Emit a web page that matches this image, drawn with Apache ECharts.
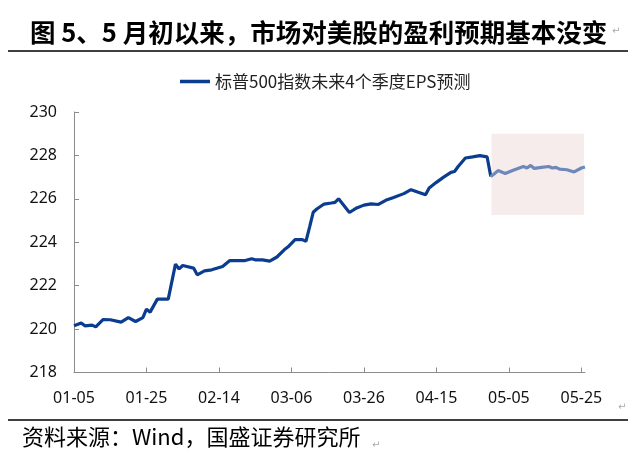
<!DOCTYPE html>
<html><head><meta charset="utf-8">
<script src="https://cdn.jsdelivr.net/npm/echarts@6/dist/echarts.min.js"></script>
<style>html,body{margin:0;padding:0;background:#fff}#c{width:636px;height:468px}</style>
</head><body><div id="c"></div>
<script>
const YEAR = 2021;
const titleText = '图 5、5 月初以来，市场对美股的盈利预期基本没变';
const sourceText = '资料来源：Wind，国盛证券研究所';
const seriesName = '标普500指数未来4个季度EPS预测';

const actualDates = ['01-05','01-07','01-08','01-10','01-11','01-13','01-15','01-18','01-20','01-22','01-24','01-25','01-26','01-28','01-31',
  '02-02','02-03','02-04','02-07','02-08','02-10','02-12','02-15','02-17','02-21','02-23','02-24','02-26','02-28',
  '03-02','03-04','03-05','03-07','03-09','03-10','03-11','03-12','03-13','03-15','03-17','03-18','03-19','03-22','03-24','03-26','03-28','03-30',
  '04-01','04-03','04-06','04-08','04-10','04-12','04-13','04-15','04-17','04-19','04-20','04-21','04-23','04-25','04-27','04-29','04-30'];
const actualValues = [220.15,220.28,220.15,220.18,220.10,220.44,220.43,220.32,220.53,220.35,220.53,220.92,220.78,221.38,221.38,
  222.99,222.77,222.93,222.81,222.50,222.68,222.73,222.88,223.16,223.15,223.24,223.19,223.19,223.13,
  223.32,223.65,223.78,224.12,224.12,224.04,224.70,225.38,225.53,225.76,225.81,225.84,226.00,225.37,225.58,225.71,225.77,225.74,
  225.93,226.05,226.24,226.42,226.30,226.19,226.50,226.76,227.00,227.22,227.26,227.49,227.88,227.93,227.99,227.93,227.03];

const recentDates = ['04-30','05-01','05-02','05-04','05-06','05-09','05-10','05-11','05-12','05-14','05-16','05-17','05-18','05-19','05-21','05-23','05-25','05-26'];
const recentValues = [227.03,227.16,227.30,227.17,227.30,227.49,227.42,227.54,227.40,227.45,227.49,227.42,227.45,227.37,227.34,227.24,227.42,227.47];

const xTickLabels = ['01-05','01-25','02-14','03-06','03-26','04-15','05-05','05-25'];
const xAxisEnd = '05-26';
const yMin = 218, yMax = 230, yStep = 2;
const highlightX = [115.2, 140.7];   // day offsets of shaded window
const highlightY = [225.25, 229];

function dayOffset(md) {
  const [m, d] = md.split('-').map(Number);
  const [m0, d0] = xTickLabels[0].split('-').map(Number);
  return Math.round((Date.UTC(YEAR, m - 1, d) - Date.UTC(YEAR, m0 - 1, d0)) / 86400000);
}
const tickOffsets = xTickLabels.map(dayOffset);
const tickStep = tickOffsets[1] - tickOffsets[0];
const labelByOffset = {};
xTickLabels.forEach((l, i) => labelByOffset[tickOffsets[i]] = l);

const actualData = actualDates.map((d, i) => [dayOffset(d), actualValues[i]]);
const recentData = recentDates.map((d, i) => [dayOffset(d), recentValues[i]]);

const DARK = '#0a3d8f', LIGHT = '#6f88ba', AXIS = '#8c8c8c';
const chart = echarts.init(document.getElementById('c'), null, {renderer: 'canvas'});
chart.setOption({
  animation: false,
  backgroundColor: '#fff',
  title: {
    text: titleText, left: 25, top: 15,
    textStyle: {fontFamily: 'Noto Sans CJK SC', fontSize: 25.5, fontWeight: 'bold', color: '#000'}
  },
  legend: {
    data: [{name: seriesName, icon: 'rect'}],
    left: 175, top: 68, itemWidth: 30, itemHeight: 3.5,
    textStyle: {fontFamily: 'Noto Sans CJK SC', fontSize: 17, color: '#222'}
  },
  grid: {left: 74, top: 112, right: 51, bottom: 95.5, containLabel: false},
  xAxis: {
    type: 'value', min: 0, max: dayOffset(xAxisEnd), interval: tickStep,
    axisLine: {lineStyle: {color: AXIS, width: 1}},
    axisTick: {inside: true, length: 5, lineStyle: {color: AXIS}, customValues: tickOffsets},
    axisLabel: {
      customValues: tickOffsets, margin: 18,
      formatter: v => labelByOffset[v] || '',
      fontFamily: 'Noto Sans', fontSize: 16, color: '#111'
    },
    splitLine: {show: false}
  },
  yAxis: {
    type: 'value', min: yMin, max: yMax, interval: yStep,
    axisLine: {show: true, lineStyle: {color: AXIS, width: 1}},
    axisTick: {show: true, inside: true, length: 5, lineStyle: {color: AXIS}},
    axisLabel: {margin: 17, fontFamily: 'Noto Sans', fontSize: 16, color: '#111'},
    splitLine: {show: false}
  },
  series: [
    {
      name: 'highlight', type: 'line', data: [], z: 1, silent: true,
      markArea: {
        silent: true, itemStyle: {color: '#f6ecec'},
        data: [[{xAxis: highlightX[0], yAxis: highlightY[1]}, {xAxis: highlightX[1], yAxis: highlightY[0]}]]
      }
    },
    {
      name: seriesName, type: 'line', data: actualData, z: 3,
      showSymbol: false, symbol: 'none', lineStyle: {color: DARK, width: 3.2}, itemStyle: {color: DARK}
    },
    {
      name: seriesName + '（5月以来）', type: 'line', data: recentData, z: 3,
      showSymbol: false, symbol: 'none', lineStyle: {color: LIGHT, width: 3.2}, itemStyle: {color: LIGHT}
    }
  ],
  graphic: [
    {type: 'line', shape: {x1: 8, y1: 51, x2: 628, y2: 51}, style: {stroke: '#000', lineWidth: 1.5}},
    {type: 'line', shape: {x1: 8, y1: 420, x2: 628, y2: 420}, style: {stroke: '#000', lineWidth: 1.5}},
    {type: 'text', left: 22, top: 426, style: {text: sourceText, font: '22px "Noto Sans CJK SC"', fill: '#000'}},
    {type: 'text', left: 612, top: 26, style: {text: '↵', font: '10px "DejaVu Sans"', fill: '#aaa'}},
    {type: 'text', left: 618, top: 402, style: {text: '↵', font: '10px "DejaVu Sans"', fill: '#aaa'}},
    {type: 'text', left: 372, top: 440, style: {text: '↵', font: '10px "DejaVu Sans"', fill: '#aaa'}}
  ]
});
</script></body></html>
